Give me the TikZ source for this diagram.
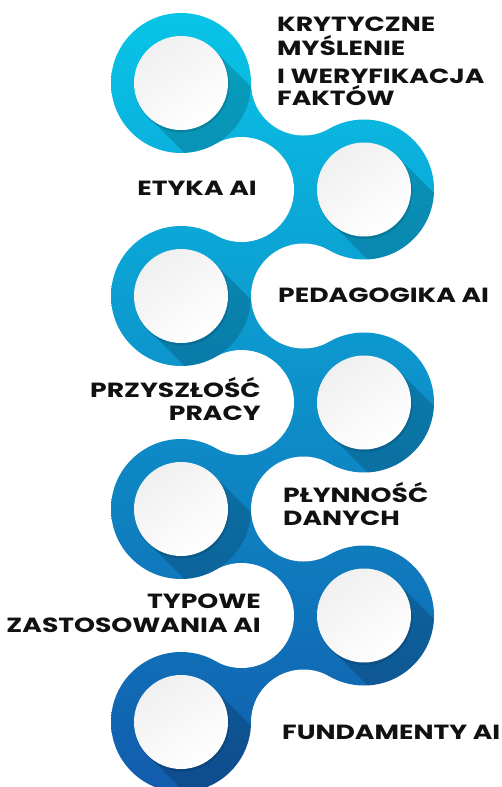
\documentclass[tikz,border=0pt]{standalone}
\usepackage{fontspec}
\newfontfamily\labfont{Poppins}[FakeStretch=1.3]
\usetikzlibrary{calc}
\definecolor{topc}{RGB}{8,198,232}
\definecolor{midc}{RGB}{32,152,218}
\definecolor{botc}{RGB}{18,92,172}
\definecolor{txt}{RGB}{17,17,17}
\tikzset{
  lab/.style={font=\labfont\bfseries\fontsize{20.5}{22}\selectfont, inner sep=0pt, text=txt},
  blobshade/.style={top color=topc, middle color=midc, bottom color=botc},
  fillet/.style={fill=white},
  dropshade/.style={fill=black, opacity=.17},
}
\begin{document}
\begin{tikzpicture}[x=1pt,y=-1pt]
\useasboundingbox[fill=white] (0,0) rectangle (502,787);
\def\R{70}
\def\r{47}
% circle centres
\coordinate (c0) at (181,83);
\coordinate (c1) at (364,189.5);
\coordinate (c2) at (181,296);
\coordinate (c3) at (364,402.5);
\coordinate (c4) at (181,509);
\coordinate (c5) at (364,615.5);
\coordinate (c6) at (181,722);
% fillet centres
\coordinate (fl1) at (241.5,189.5);
\coordinate (fl3) at (241.5,402.5);
\coordinate (fl5) at (241.5,615.5);
\coordinate (fr0) at (303.5,83);
\coordinate (fr2) at (303.5,296);
\coordinate (fr4) at (303.5,509);
\coordinate (fr6) at (303.5,722);
% necks
\foreach \a/\b/\p/\q in {c0/c1/fl1/fr0, c1/c2/fl1/fr2, c2/c3/fl3/fr2, c3/c4/fl3/fr4, c4/c5/fl5/fr4, c5/c6/fl5/fr6}{
  \begin{scope}
    \clip (\a) -- (\p) -- (\b) -- (\q) -- cycle;
    \shade[blobshade] (0,0) rectangle (502,787);
  \end{scope}
}
\foreach \f in {fl1,fl3,fl5,fr0,fr2,fr4,fr6}{
  \fill[fillet] (\f) circle (52.5);
}
% big circles with long shadow
\foreach \i in {0,...,6}{
  \begin{scope}
    \clip (c\i) circle (\R);
    \shade[blobshade] (0,0) rectangle (502,787);
    \fill[dropshade] ($(c\i)+(33.2,-33.2)$) -- ++(140,140) -- ($(c\i)+(-33.2,33.2)+(140,140)$) -- ($(c\i)+(-33.2,33.2)$) -- cycle;
  \end{scope}
  \fill[black, opacity=.12] ($(c\i)+(1,2)$) circle (\r+0.5);
  \shade[top color=black!6, bottom color=white, shading angle=35] (c\i) circle (\r);
}
% labels
\node[lab, anchor=base west] (k1) at (277,31.7) {KRYTYCZNE};
\node[lab, anchor=base west] (k2) at (277,55) {MYŚLENIE};
\node[lab, anchor=base west] (k3) at (277,83.3) {I WERYFIKACJA};
\node[lab, anchor=base west] (k4) at (277,105) {FAKTÓW};
\node[lab, anchor=base east] (etyka) at (257,195) {ETYKA AI};
\node[lab, anchor=base west] (ped) at (278,302) {PEDAGOGIKA AI};
\node[lab, anchor=base east] (prz1) at (261,397) {PRZYSZŁOŚĆ};
\node[lab, anchor=base east] (prz2) at (261,420) {PRACY};
\node[lab, anchor=base west] (ply1) at (283,502) {PŁYNNOŚĆ};
\node[lab, anchor=base west] (ply2) at (283,525) {DANYCH};
\node[lab, anchor=base east] (typ1) at (261,608) {TYPOWE};
\node[lab, anchor=base east] (typ2) at (261,632) {ZASTOSOWANIA AI};
\node[lab, anchor=base west] (fund) at (282,739) {FUNDAMENTY AI};
\end{tikzpicture}
\end{document}
